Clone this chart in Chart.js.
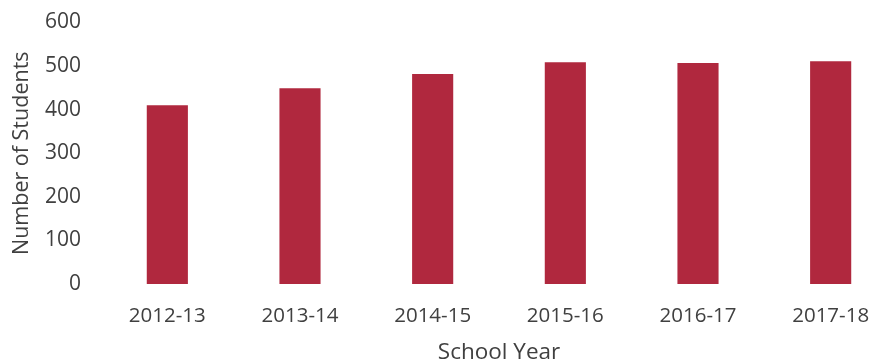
<!DOCTYPE html>
<html>
<head>
<meta charset="utf-8">
<script src="https://cdn.jsdelivr.net/npm/chart.js@4/dist/chart.umd.min.js"></script>
<style>
  html, body { margin: 0; padding: 0; background: #fff; overflow: hidden; }
  #wrap { width: 897px; height: 364px; }
</style>
</head>
<body>
<div id="wrap"><canvas id="c" width="897" height="364"></canvas></div>
<script>
// Enrollment by school year
const schoolYears = ['2012-13', '2013-14', '2014-15', '2015-16', '2016-17', '2017-18'];
const studentCounts = [410, 449, 482, 509, 507, 511];
const yTicks = [0, 100, 200, 300, 400, 500, 600];

const FONT = '"Open Sans", "Noto Sans", sans-serif';
const TEXT = '#404040';

new Chart(document.getElementById('c'), {
  type: 'bar',
  data: {
    labels: schoolYears,
    datasets: [{
      data: studentCounts,
      backgroundColor: '#b0283e',
      borderWidth: 0,
      barPercentage: 0.31,
      categoryPercentage: 1.0
    }]
  },
  options: {
    responsive: false,
    animation: false,
    devicePixelRatio: 1,
    layout: { padding: { top: 22.5, right: 0, bottom: 0, left: 0 } },
    plugins: { legend: { display: false }, tooltip: { enabled: false } },
    scales: {
      x: {
        grid: { display: false, drawTicks: false },
        border: { display: false },
        ticks: { color: TEXT, font: { family: FONT, size: 20.5 }, padding: 20, maxRotation: 0 },
        title: { display: true, text: 'School Year', color: TEXT, font: { family: FONT, size: 22.5, lineHeight: 1.0 }, padding: 0 },
        afterFit: s => { s.height = 80; s.paddingLeft = 0; s.paddingRight = 0; }
      },
      y: {
        min: 0, max: 600,
        afterBuildTicks: s => { s.ticks = yTicks.map(v => ({ value: v })); },
        grid: { display: false, drawTicks: false },
        border: { display: false },
        ticks: { color: TEXT, font: { family: FONT, size: 21 }, padding: 20 },
        title: { display: true, text: 'Number of Students', color: TEXT, font: { family: FONT, size: 21.5, lineHeight: 1.0 }, padding: { top: 11, bottom: 0 } },
        afterFit: s => { s.width = 101; s.paddingTop = 0; s.paddingBottom = 0; }
      }
    }
  }
});
</script>
</body>
</html>
